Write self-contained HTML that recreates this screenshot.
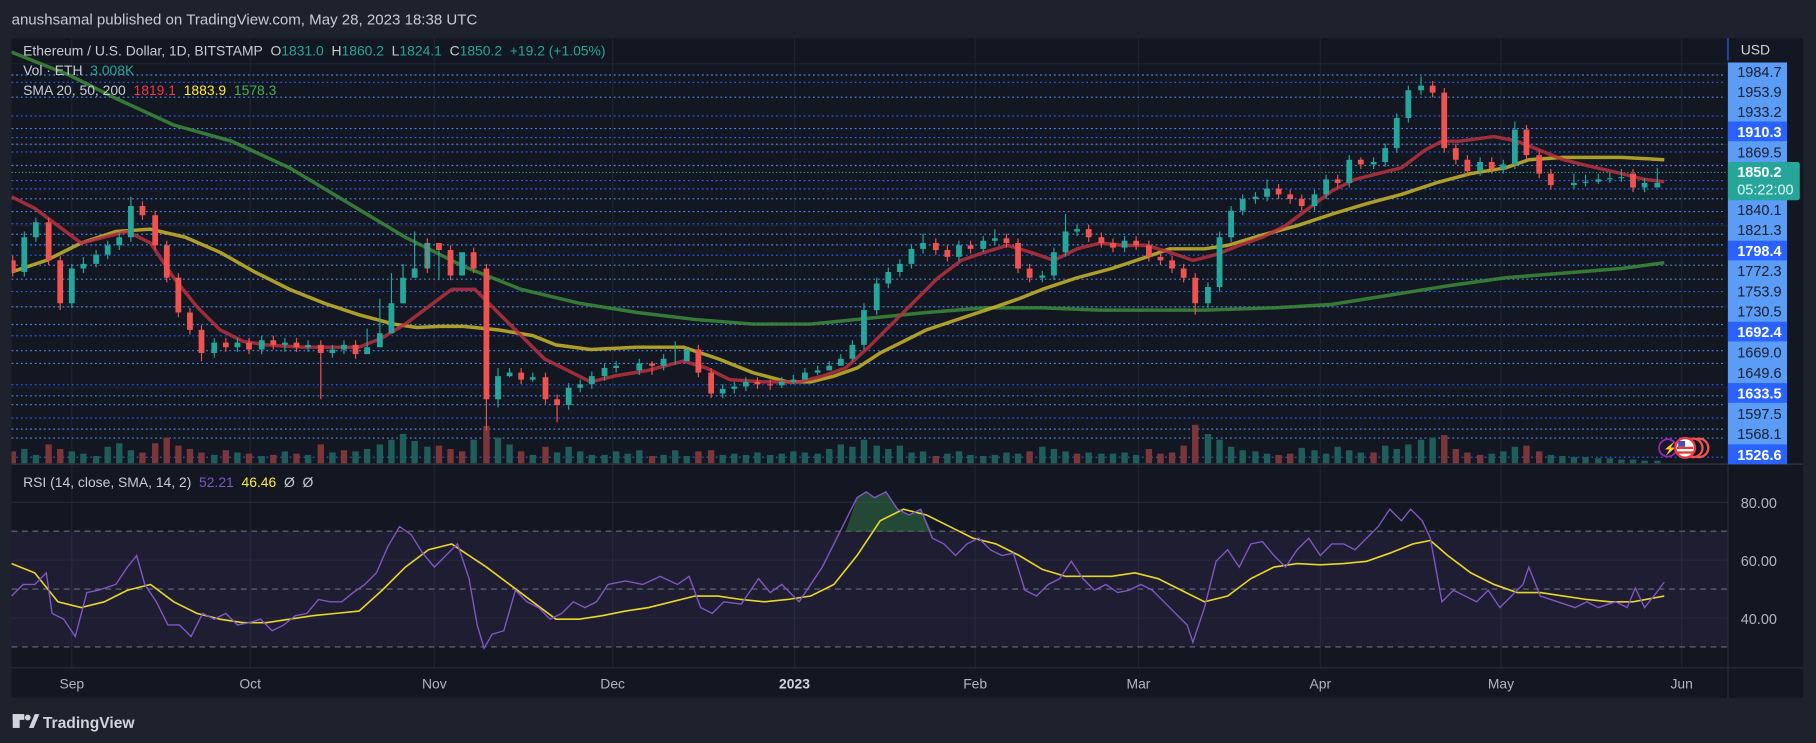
<!DOCTYPE html>
<html><head><meta charset="utf-8">
<style>
html,body{margin:0;padding:0;background:#1e222d;width:1816px;height:743px;overflow:hidden}
svg{display:block}
text{font-family:"Liberation Sans",sans-serif}
</style></head>
<body>
<svg width="1816" height="743" viewBox="0 0 1568 642" preserveAspectRatio="none" xmlns="http://www.w3.org/2000/svg">
<defs>
<clipPath id="cp"><rect x="10" y="33" width="1482" height="368"/></clipPath>
<clipPath id="cob"><rect x="10" y="401" width="1482" height="58.5"/></clipPath>
</defs>
<rect x="0" y="0" width="1568" height="642" fill="#1e222d"/>
<rect x="10" y="33" width="1547" height="570" fill="#131722"/>
<text x="10" y="21" font-size="13" fill="#c8cbd3">anushsamal published on TradingView.com, May 28, 2023 18:38 UTC</text>
<!-- grid -->
<g stroke="#1f2330" stroke-width="1">
<path d="M62,33V577M216,33V577M375,33V577M529,33V577M686,33V577M842,33V577M983,33V577M1140,33V577M1296,33V577M1452,33V577"/>
<path d="M10,55H1492M10,125H1492M10,195H1492M10,265H1492M10,335H1492"/>
</g>
<rect x="10" y="459" width="1482" height="100" fill="#7e57c2" fill-opacity="0.1"/>
<path d="M10,434H1492M10,484H1492M10,534H1492" stroke="#262a38" stroke-width="1"/>
<path d="M10,459H1492M10,509H1492M10,559H1492" stroke="#6a6d78" stroke-width="1" stroke-dasharray="5 4"/>
<!-- dotted lines -->
<g stroke-width="1" stroke-dasharray="1.5 2.5" stroke="#4d8af0">
<path d="M10,64.8H1490M10,84H1490M10,111.1H1490M10,124.6H1490M10,143H1490M10,171.8H1490M10,182.8H1490M10,202.4H1490M10,211.6H1490M10,229.1H1490M10,241.2H1490M10,265.1H1490M10,280.4H1490M10,303H1490M10,314H1490M10,342H1490M10,349.7H1490M10,370.8H1490M10,378.5H1490"/>
<path stroke="#2962ff" d="M10,71.1H1490M10,100.2H1490M10,118.9H1490M10,131.3H1490M10,156H1490M10,163.2H1490M10,193.4H1490M10,220.5H1490M10,251.9H1490M10,290.2H1490M10,332.5H1490M10,361.2H1490M10,395H1490"/>
</g>
<path d="M10,149H1490" stroke="#26a69a" stroke-width="1" stroke-dasharray="1 2"/>
<!-- volume -->
<g clip-path="url(#cp)" stroke-width="5.5" fill="none">
<path stroke="#1e5d5a" d="M21,401V388M31,401V393M62,401V390M72,401V392M83,401V394M93,401V386M103,401V383M113,401V389M185,401V393M205,401V391M226,401V394M246,401V390M266,401V393M287,401V391M307,401V390M317,401V388M328,401V384M338,401V380M348,401V375M358,401V381M369,401V386M409,401V380M430,401V378M440,401V384M460,401V393M481,401V391M491,401V386M501,401V390M511,401V393M522,401V393M532,401V390M542,401V392M552,401V389M573,401V393M583,401V389M593,401V394M624,401V393M634,401V392M644,401V393M654,401V391M665,401V393M675,401V392M685,401V390M695,401V391M706,401V392M716,401V388M726,401V384M736,401V386M746,401V380M757,401V385M767,401V388M777,401V385M787,401V391M797,401V390M818,401V392M828,401V390M838,401V393M849,401V394M859,401V393M869,401V391M879,401V392M900,401V386M910,401V388M920,401V390M940,401V391M951,401V392M961,401V392M971,401V391M981,401V393M1043,401V375M1053,401V380M1063,401V386M1073,401V389M1084,401V390M1094,401V392M1124,401V387M1135,401V389M1145,401V392M1155,401V386M1165,401V389M1175,401V391M1196,401V385M1206,401V388M1216,401V384M1227,401V380M1237,401V378M1288,401V392M1298,401V390M1308,401V386M1339,401V393M1349,401V394M1359,401V395M1369,401V395M1380,401V396M1390,401V396M1400,401V397M1410,401V397M1420,401V398M1431,401V398"/>
<path stroke="#7a3639" d="M11,401V390M42,401V384M52,401V388M123,401V391M134,401V383M144,401V378M154,401V385M164,401V388M174,401V391M195,401V389M215,401V392M236,401V393M256,401V392M277,401V384M297,401V389M379,401V385M389,401V388M399,401V390M420,401V368M450,401V390M471,401V386M563,401V394M603,401V390M614,401V389M808,401V394M889,401V390M930,401V392M992,401V388M1002,401V392M1012,401V391M1022,401V385M1032,401V367M1104,401V393M1114,401V392M1186,401V391M1247,401V376M1257,401V388M1267,401V391M1278,401V393M1318,401V385M1329,401V390"/>
</g>
<!-- SMA -->
<g clip-path="url(#cp)" fill="none" stroke-linejoin="round" stroke-width="3" stroke-opacity="0.85">
<polyline stroke="#3d8b3a" points="10,45 60,65 100,85 150,108 200,122 250,145 300,175 350,205 400,230 450,250 500,262 550,270 600,276 650,280 700,280 750,275 800,270 850,266 900,266 950,268 1000,268 1040,268 1100,266 1150,263 1200,255 1250,247 1300,240 1350,236 1400,232 1437,227"/>
<polyline stroke="#c9b52a" points="10,235 40,225 70,210 100,200 130,198 160,205 190,218 220,235 250,250 280,262 310,272 340,280 360,283 380,282 400,282 430,285 460,290 480,298 510,302 550,300 590,300 620,310 650,322 680,330 700,330 720,325 740,318 760,305 780,295 800,285 830,275 860,265 880,258 900,250 930,240 960,232 990,222 1010,215 1040,215 1060,212 1090,203 1120,195 1150,185 1180,176 1210,168 1240,158 1270,150 1300,145 1320,138 1350,136 1400,136 1437,138"/>
<polyline stroke="#b8303d" points="10,170 30,180 50,195 70,210 90,205 110,200 130,210 150,240 170,265 190,285 210,295 230,298 260,300 290,300 310,300 330,292 350,280 370,265 390,250 410,250 430,270 450,290 470,310 490,320 510,330 530,325 560,320 590,312 610,318 630,328 660,330 690,330 710,325 730,318 750,300 770,280 790,260 810,240 830,225 850,218 870,212 890,218 910,225 930,215 950,210 970,212 990,212 1010,218 1030,225 1050,220 1070,212 1090,205 1110,195 1130,180 1150,165 1170,155 1190,150 1210,145 1230,130 1245,122 1260,122 1290,118 1310,122 1330,130 1350,138 1370,143 1400,150 1420,155 1437,157"/>
</g>
<!-- candles -->
<g clip-path="url(#cp)" fill="none">
<path stroke="#26a69a" stroke-width="1" d="M21,200V239M31,188V209M62,228V266M72,222V236M83,216V231M93,208V224M103,201V216M113,170V209M185,292V309M205,292V304M226,290V306M246,292V304M266,294V304M287,298V309M297,294V306M307,296V304M317,284V304M328,258V292M338,236V266M348,228V244M358,200V236M379,212V242M430,318V352M440,318V326M460,322V330M491,331V354M501,328V339M511,321V336M522,314V329M532,312V322M552,310V324M573,306V320M583,295V315M624,332V344M634,330V340M644,326V338M675,326V335M685,324V332M695,318V326M706,316V324M716,312V320M726,306V314M736,294V312M746,262V302M757,240V272M767,231V249M777,224V239M787,211V232M797,202V219M828,208V226M849,204V218M859,198V212M900,234V244M910,214V242M920,185V222M930,194V204M971,204V218M1043,244V266M1053,200V252M1063,178V209M1073,168V186M1084,166V176M1094,155V174M1135,164V182M1145,151V172M1165,134V162M1186,136V146M1196,124V144M1206,98V132M1216,74V106M1227,66V82M1278,136V152M1298,138V150M1308,105V146M1359,150V164M1369,151V161M1380,150V159M1390,149V158M1400,146V157M1420,154V166M1431,145V162"/>
<path stroke="#26a69a" stroke-width="5" d="M21,235V205M31,205V192M62,262V232M72,232V228M83,228V220M93,220V212M103,212V205M113,205V178M185,305V296M205,300V296M226,302V294M246,298V296M266,300V298M287,305V302M297,302V298M317,306V300M328,300V288M338,288V262M348,262V240M358,240V232M369,232V210M399,238V218M430,345V325M440,325V322M460,328V326M491,350V335M501,335V332M511,332V325M522,325V318M532,318V316M552,320V314M573,316V310M593,312V302M624,340V336M634,336V334M644,334V330M675,333V330M685,330V328M695,328V322M706,322V320M716,320V316M726,316V310M736,310V298M746,298V268M757,268V245M767,245V235M777,235V228M787,228V215M797,215V210M828,222V212M849,215V208M859,208V206M900,240V238M910,238V218M920,218V200M930,200V198M971,214V208M1043,262V248M1053,248V205M1063,205V182M1073,182V172M1084,172V170M1094,170V163M1135,178V168M1145,168V155M1165,158V138M1186,142V140M1196,140V128M1206,128V102M1216,102V78M1227,78V74M1278,148V140M1298,146V142M1308,142V112M1359,160V158M1369,158V157M1380,157V155M1390,155V154M1400,154V153M1410,153V150M1431,162V158M1420,162V158"/>
<path stroke="#ef5350" stroke-width="1" d="M11,221V239M42,188V229M52,221V268M123,174V190M134,182V216M144,208V244M154,236V274M164,266V289M174,281V312M195,292V304M215,292V306M236,290V302M256,292V304M277,294V345M307,294V310M369,206V236M389,212V242M409,214V236M420,228V372M450,318V332M471,322V349M481,341V365M563,312V324M603,298V326M614,318V344M654,326V336M665,328V337M808,206V220M818,212V226M838,208V219M869,202V214M879,206V236M889,228V244M940,194V209M951,201V214M961,206V218M981,204V216M992,208V226M1002,218V229M1012,221V236M1022,228V244M1032,236V272M1104,159V172M1114,164V176M1124,168V182M1155,151V162M1175,136V146M1237,70V84M1247,76V132M1257,124V142M1267,134V152M1288,136V150M1318,108V138M1329,130V154M1339,146V164M1410,146V166"/>
<path stroke="#ef5350" stroke-width="5" d="M11,225V235M42,192V225M52,225V262M123,178V186M134,186V212M144,212V240M154,240V270M164,270V285M174,285V305M195,296V300M215,296V302M236,294V298M256,296V300M277,298V305M307,298V306M379,210V216M389,216V238M409,218V232M420,232V345M450,322V328M471,326V345M481,345V350M563,314V316M603,302V322M614,322V340M654,330V332M665,332V333M808,210V216M818,216V222M838,212V215M869,206V210M879,210V232M889,232V240M940,198V205M951,205V210M961,210V214M981,208V212M992,212V222M1002,222V225M1012,225V232M1022,232V240M1032,240V262M1104,163V168M1114,168V172M1124,172V178M1155,155V158M1175,138V142M1237,74V80M1247,80V128M1257,128V138M1267,138V148M1288,140V146M1318,112V134M1329,134V150M1339,150V160M1410,150V162"/>
</g>
<!-- RSI -->
<g clip-path="url(#cob)">
<polygon fill="#2f6b45" fill-opacity="0.6" points="730,460 740,430 748,425 755,430 765,425 775,440 785,445 795,440 805,460"/>
</g>
<g fill="none" clip-path="url(#cp)"></g>
<polyline fill="none" stroke="#e8d62a" stroke-width="1.4" points="10,487 30,495 50,520 70,525 90,520 110,510 130,505 150,520 170,530 190,535 210,538 230,538 250,535 270,532 290,530 310,528 330,510 350,490 370,475 390,470 405,480 420,490 440,505 460,520 480,535 500,535 520,532 540,528 560,525 580,520 600,515 620,515 640,518 660,520 680,518 700,515 720,505 740,480 760,450 780,440 800,445 820,455 840,465 860,470 880,480 900,492 920,498 940,498 960,498 980,495 1000,500 1020,510 1040,520 1060,515 1080,500 1100,490 1120,487 1140,488 1160,487 1180,485 1200,478 1220,470 1235,467 1250,480 1270,495 1290,505 1310,512 1330,512 1350,515 1370,518 1390,520 1410,520 1437,515"/>
<polyline fill="none" stroke="#7e57c2" stroke-width="1.2" points="10,515 20,505 30,505 40,495 45,530 55,535 65,550 75,512 85,510 100,505 110,490 118,480 125,505 135,520 145,540 155,540 165,550 175,530 185,535 195,530 205,540 215,538 225,535 235,545 245,540 255,532 265,530 275,518 285,520 295,520 305,512 315,505 325,495 335,472 345,455 355,462 365,478 375,490 385,480 395,470 405,500 412,540 418,560 425,548 435,545 445,510 455,520 465,525 475,535 485,530 495,520 505,525 515,520 525,505 540,502 555,505 570,498 585,505 595,498 605,525 615,530 625,520 640,522 655,500 665,512 675,505 690,520 700,505 710,490 720,470 730,450 740,430 748,425 755,430 765,425 775,440 785,445 795,440 805,465 815,470 825,480 835,470 845,465 855,475 865,480 875,478 885,510 895,515 905,505 915,500 925,485 935,500 945,510 955,505 965,512 975,510 985,505 995,510 1005,520 1015,530 1025,540 1030,555 1040,525 1050,485 1060,475 1070,490 1080,470 1090,468 1100,480 1110,490 1120,475 1130,465 1140,480 1150,470 1160,470 1170,475 1180,465 1190,455 1200,440 1210,450 1218,440 1228,450 1235,465 1245,520 1255,510 1265,515 1275,520 1285,510 1295,525 1305,515 1315,505 1320,490 1330,515 1345,520 1360,525 1370,520 1380,525 1395,520 1405,525 1412,508 1420,525 1428,515 1437,503"/>
<!-- separators -->
<line x1="10" y1="401" x2="1557" y2="401" stroke="#2a2e39" stroke-width="1.5"/>
<line x1="10" y1="577" x2="1557" y2="577" stroke="#2a2e39" stroke-width="1"/>
<line x1="1492" y1="33" x2="1492" y2="603" stroke="#2a2e39" stroke-width="1"/>
<line x1="1492" y1="33" x2="1492" y2="52" stroke="#2962ff" stroke-width="1"/>
<!-- legend -->
<text x="20" y="48" font-size="12" fill="#c8cbd3">Ethereum / U.S. Dollar, 1D, BITSTAMP&#160; O<tspan fill="#26a69a">1831.0</tspan>&#160; H<tspan fill="#26a69a">1860.2</tspan>&#160; L<tspan fill="#26a69a">1824.1</tspan>&#160; C<tspan fill="#26a69a">1850.2</tspan>&#160; <tspan fill="#26a69a">+19.2 (+1.05%)</tspan></text>
<text x="20" y="65" font-size="12" fill="#c8cbd3">Vol · ETH&#160; <tspan fill="#26a69a">3.008K</tspan></text>
<text x="20" y="82" font-size="12" fill="#c8cbd3">SMA 20, 50, 200&#160; <tspan fill="#f23645">1819.1</tspan>&#160; <tspan fill="#ffeb3b">1883.9</tspan>&#160; <tspan fill="#4caf50">1578.3</tspan></text>
<text x="20" y="421" font-size="12" fill="#c8cbd3">RSI (14, close, SMA, 14, 2)&#160; <tspan fill="#7e57c2">52.21</tspan>&#160; <tspan fill="#ffeb3b">46.46</tspan>&#160; Ø&#160; Ø</text>
<!-- right axis -->
<text x="1503" y="47" font-size="12" fill="#d1d4dc">USD</text>
<rect x="1492" y="54" width="51" height="347" fill="#5b9cf6"/>
<g fill="#2962ff">
<rect x="1492" y="105" width="51" height="17"/><rect x="1492" y="208" width="51" height="17"/><rect x="1492" y="278" width="51" height="17"/><rect x="1492" y="331" width="51" height="17"/><rect x="1492" y="384" width="51" height="17"/>
</g>
<g font-size="12.5" fill="#1a1e2b">
<text x="1500" y="66.5">1984.7</text><text x="1500" y="83.7">1953.9</text><text x="1500" y="100.9">1933.2</text><text x="1500" y="136.3">1869.5</text><text x="1500" y="186">1840.1</text><text x="1500" y="203.2">1821.3</text><text x="1500" y="238.5">1772.3</text><text x="1500" y="256.4">1753.9</text><text x="1500" y="273.5">1730.5</text><text x="1500" y="309">1669.0</text><text x="1500" y="326.5">1649.6</text><text x="1500" y="362">1597.5</text><text x="1500" y="379.3">1568.1</text>
</g>
<g font-size="12.5" fill="#fff" font-weight="bold">
<text x="1500" y="118.2">1910.3</text><text x="1500" y="221.2">1798.4</text><text x="1500" y="291.2">1692.4</text><text x="1500" y="344.5">1633.5</text><text x="1500" y="397.5">1526.6</text>
</g>
<rect x="1492" y="140" width="62" height="33" rx="2" fill="#26a69a"/>
<text x="1500" y="153" font-size="12.5" font-weight="bold" fill="#fff">1850.2</text>
<text x="1500" y="168" font-size="12.5" fill="#e0f2f1">05:22:00</text>
<g font-size="12.5" fill="#b2b5be">
<text x="1503" y="439">80.00</text><text x="1503" y="489">60.00</text><text x="1503" y="539">40.00</text>
</g>
<g font-size="12" fill="#b2b5be" text-anchor="middle">
<text x="62" y="595">Sep</text><text x="216" y="595">Oct</text><text x="375" y="595">Nov</text><text x="529" y="595">Dec</text><text x="686" y="595" fill="#d1d4dc" font-weight="bold">2023</text><text x="842" y="595">Feb</text><text x="983" y="595">Mar</text><text x="1140" y="595">Apr</text><text x="1296" y="595">May</text><text x="1452" y="595">Jun</text>
</g>
<!-- icons -->
<circle cx="1467" cy="387" r="8" fill="#131722" stroke="#ef5350" stroke-width="2"/>
<circle cx="1462" cy="387" r="8" fill="#131722" stroke="#ef5350" stroke-width="2"/>
<circle cx="1440" cy="387" r="7.5" fill="#1a1630" stroke="#9c27b0" stroke-width="1.5"/>
<text x="1436" y="391" font-size="10" fill="#9c27b0">⚡</text>
<circle cx="1455" cy="387" r="8.5" fill="#fff" stroke="#f23645" stroke-width="2"/>
<rect x="1448" y="386" width="14" height="2" fill="#e53935"/><rect x="1448" y="390" width="14" height="2" fill="#e53935"/>
<rect x="1449" y="381" width="6" height="5" fill="#3f51b5"/>
<!-- footer -->
<g transform="translate(11,617)">
<rect x="0" y="0" width="6" height="12" fill="#d1d4dc"/><rect x="0" y="0" width="10" height="5" fill="#d1d4dc"/>
<circle cx="13" cy="3" r="2.5" fill="#d1d4dc"/><path d="M14 12 L19 0 L23 0 L18 12Z" fill="#d1d4dc"/>
</g>
<text x="37" y="629" font-size="13.5" font-weight="bold" fill="#d1d4dc">TradingView</text>
</svg>
</body></html>
